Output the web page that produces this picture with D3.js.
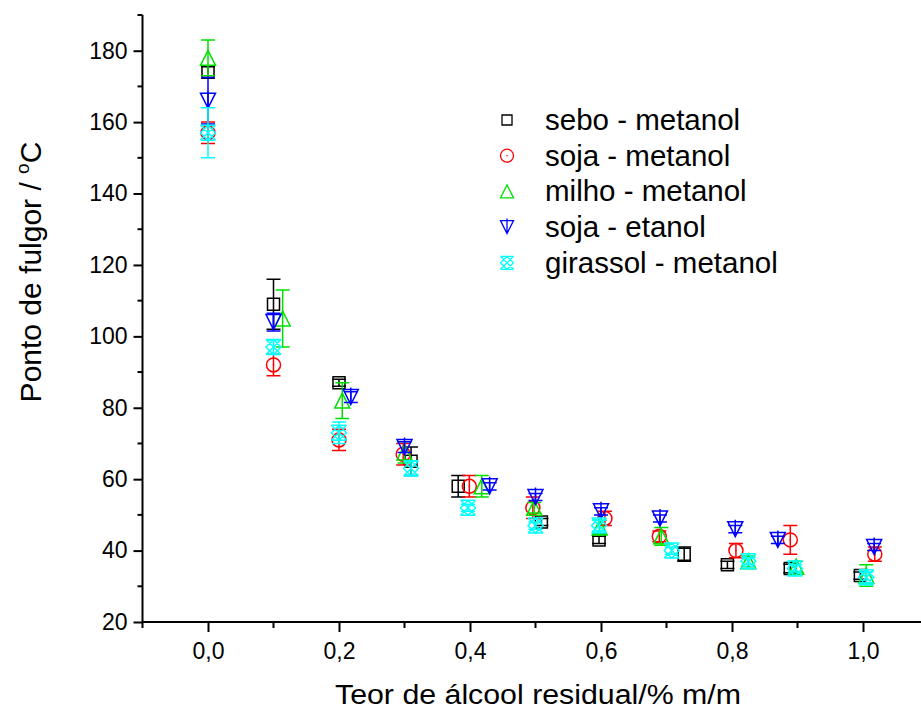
<!DOCTYPE html>
<html>
<head>
<meta charset="utf-8">
<script src="https://cdn.jsdelivr.net/npm/d3@7"></script>
<style>
  html, body { margin: 0; padding: 0; background: #fff; }
  svg { display: block; font-family: "Liberation Sans", Arial, sans-serif; }
</style>
</head>
<body>
<svg id="chart" width="921" height="711"></svg>
<script>
// Flash point vs. residual alcohol content, five biodiesel types
const seriesNames = ["sebo - metanol", "soja - metanol", "milho - metanol", "soja - etanol", "girassol - metanol"];
const seriesColors = ["#000000", "#ff0000", "#00e000", "#0000ff", "#00ffff"];
const seriesSymbols = ["square", "circle", "triangleUp", "triangleDown", "crossDiamond"];

const seboX   = [0, 0.1, 0.2, 0.31, 0.382, 0.509, 0.597, 0.727, 0.793, 0.889, 0.996];
const seboY   = [174, 109, 87, 65, 58, 48, 43, 39, 36, 35, 33];
const seboErr = [1.5, 7, 1, 4, 3, 1, 1, 2, 1, 1.2, 1];

const sojaMetX   = [0, 0.1, 0.2, 0.298, 0.399, 0.496, 0.606, 0.689, 0.806, 0.889, 1.018];
const sojaMetY   = [157, 92, 71, 67, 58, 52, 49, 44, 40, 43, 39];
const sojaMetErr = [3, 3, 3, 3, 3, 3, 2, 1.5, 2, 4, 2];

const milhoX   = [0, 0.114, 0.205, 0.3, 0.418, 0.498, 0.598, 0.692, 0.825, 0.898, 1.005];
const milhoY   = [178, 105, 82, 67.5, 58, 52, 46.5, 44, 37, 35.5, 33];
const milhoErr = [5, 8, 5, 3, 3, 1.5, 2, 2.5, 1.5, 1.5, 3];

const sojaEtX   = [0, 0.1, 0.218, 0.3, 0.43, 0.5, 0.6, 0.69, 0.805, 0.87, 1.017];
const sojaEtY   = [166, 104, 83, 69, 58, 55, 51, 49, 46, 43, 41];
const sojaEtErr = [6.5, 2.5, 1.5, 1.5, 1, 1, 1, 1, 1, 1, 1];

const girassolX   = [0, 0.1, 0.2, 0.31, 0.397, 0.5, 0.597, 0.708, 0.825, 0.896, 1.005];
const girassolY   = [157, 97, 73, 63, 52, 47, 47, 40, 37, 35, 32.5];
const girassolErr = [7, 2, 3, 2, 1, 1, 1.5, 1, 1, 1, 1.5];

const xTicksMajor = [0, 0.2, 0.4, 0.6, 0.8, 1.0];
const xTicksMinor = [-0.1, 0.1, 0.3, 0.5, 0.7, 0.9, 1.1];
const yTicksMajor = [20, 40, 60, 80, 100, 120, 140, 160, 180];
const yTicksMinor = [30, 50, 70, 90, 110, 130, 150, 170, 190];

const xTitle = "Teor de álcool residual/% m/m";

const seriesData = [
  [seboX, seboY, seboErr],
  [sojaMetX, sojaMetY, sojaMetErr],
  [milhoX, milhoY, milhoErr],
  [sojaEtX, sojaEtY, sojaEtErr],
  [girassolX, girassolY, girassolErr]
].map(([xs, ys, es], i) => ({
  name: seriesNames[i],
  color: seriesColors[i],
  symbol: seriesSymbols[i],
  points: xs.map((x, j) => ({ x, y: ys[j], e: es[j] }))
}));

const svg = d3.select("#chart");
const x = d3.scaleLinear().domain([-0.1, 1.1]).range([142.5, 928.5]);
const y = d3.scaleLinear().domain([20, 190]).range([622, 15]);

// Symbol path generators (centred at 0,0)
function symbolPath(kind, s) {
  const h = s / 2;
  switch (kind) {
    case "square":
      return `M${-h},${-h}H${h}V${h}H${-h}Z`;
    case "circle":
      return `M${-h},0A${h},${h} 0 1,0 ${h},0A${h},${h} 0 1,0 ${-h},0Z M0,-0.6V0.6`;
    case "triangleUp":
      return `M0,${-h}L${h},${h}L${-h},${h}Z`;
    case "triangleDown":
      return `M${-h},${-h}L${h},${-h}L0,${h}Z M0,${-h - 2}V${h}`;
    case "crossDiamond":
      return `M${-h},${-h}L${h},${h}M${h},${-h}L${-h},${h}` +
             `M0,${-h}L${h},0L0,${h}L${-h},0Z` +
             `M${-h},${-h}H${h}M${-h},${h}H${h}`;
  }
}
const symbolSize = { square: 12, circle: 14, triangleUp: 15, triangleDown: 15, crossDiamond: 15 };

const tickFont = 23;

// Axes
const gx = svg.append("g").attr("transform", `translate(0,${y(20)})`);
gx.call(d3.axisBottom(x).tickValues(xTicksMajor).tickSize(10)
  .tickFormat(d => d3.format(".1f")(d).replace(".", ",")));
gx.call(g => g.select(".domain").attr("stroke-width", 2).attr("d", `M${x(-0.1)},0H${x(1.1)}`));
gx.selectAll(".tick line").attr("stroke-width", 2);
gx.selectAll(".tick text").attr("font-size", tickFont).attr("y", 21).attr("dy", "0.71em")
  .attr("font-family", "Liberation Sans, Arial, sans-serif").attr("fill", "#000");
gx.selectAll(".minor").data(xTicksMinor).enter().append("line")
  .attr("class", "minor").attr("x1", d => x(d)).attr("x2", d => x(d))
  .attr("y1", 0).attr("y2", 6).attr("stroke", "#000").attr("stroke-width", 2);

const gy = svg.append("g").attr("transform", `translate(${x(-0.1)},0)`);
gy.call(d3.axisLeft(y).tickValues(yTicksMajor).tickSize(9));
gy.call(g => g.select(".domain").attr("stroke-width", 2).attr("d", `M0,${y(20)}V${y(190)}`));
gy.selectAll(".tick line").attr("stroke-width", 2);
gy.selectAll(".tick text").attr("font-size", tickFont).attr("x", -15)
  .attr("font-family", "Liberation Sans, Arial, sans-serif").attr("fill", "#000");
gy.selectAll(".minor").data(yTicksMinor).enter().append("line")
  .attr("class", "minor").attr("x1", 0).attr("x2", -5)
  .attr("y1", d => y(d)).attr("y2", d => y(d)).attr("stroke", "#000").attr("stroke-width", 2);

// Axis titles
svg.append("text").attr("x", 538).attr("y", 704).attr("text-anchor", "middle")
  .attr("font-size", 27).attr("textLength", 406).attr("lengthAdjust", "spacingAndGlyphs").text(xTitle);
const yt = svg.append("text").attr("transform", "translate(41,272) rotate(-90)")
  .attr("text-anchor", "middle").attr("font-size", 30);
yt.append("tspan").text("Ponto de fulgor / ");
yt.append("tspan").attr("dy", -12).attr("font-size", 19).text("o");
yt.append("tspan").attr("dy", 12).text("C");

// Error bars and markers
const capHalf = 7;
seriesData.forEach(s => {
  const g = svg.append("g").attr("stroke", s.color).attr("fill", "none").attr("stroke-width", 1.5);
  g.selectAll(".err").data(s.points).enter().append("path")
    .attr("d", d => {
      const cx = x(d.x), t = y(d.y + d.e), b = y(d.y - d.e);
      return `M${cx},${t}V${b}M${cx - capHalf},${t}H${cx + capHalf}M${cx - capHalf},${b}H${cx + capHalf}`;
    });
  g.selectAll(".mk").data(s.points).enter().append("path")
    .attr("transform", d => `translate(${x(d.x)},${y(d.y)})`)
    .attr("d", symbolPath(s.symbol, symbolSize[s.symbol]));
});

// Legend
const legend = svg.append("g").attr("transform", "translate(507,120)");
seriesData.forEach((s, i) => {
  const row = legend.append("g").attr("transform", `translate(0,${i * 35.7})`);
  row.append("path").attr("d", symbolPath(s.symbol, s.symbol === "square" ? 10 : 13))
    .attr("fill", "none").attr("stroke", s.color).attr("stroke-width", 1.3);
  row.append("text").attr("x", 38).attr("y", 10).attr("font-size", 29.5).attr("fill", "#000").text(s.name);
});
</script>
</body>
</html>
